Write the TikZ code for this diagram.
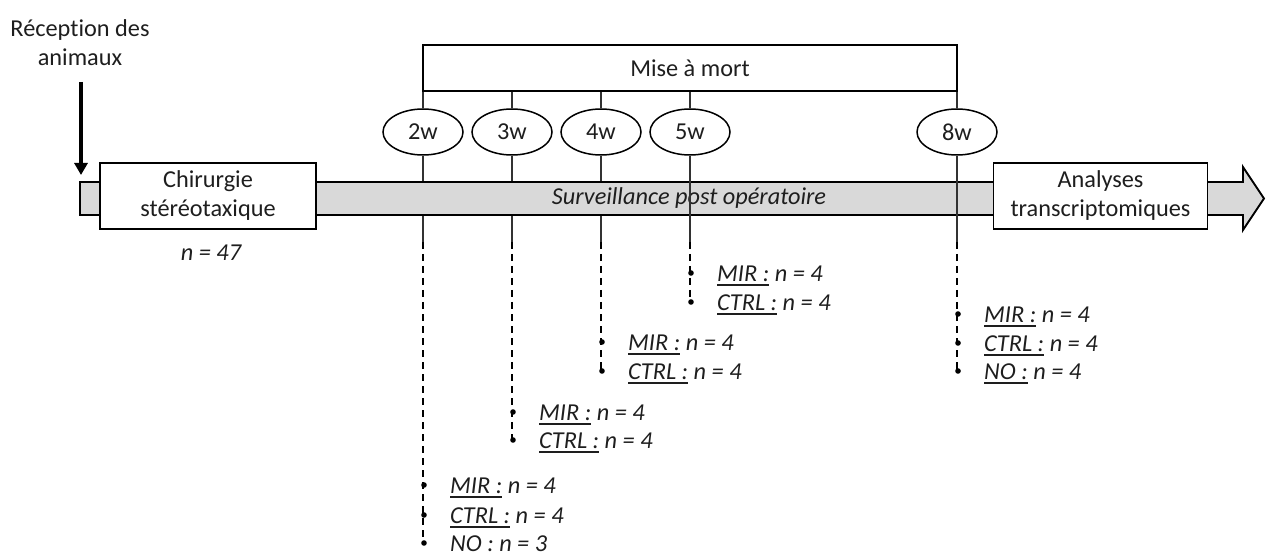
\documentclass[tikz,border=0pt]{standalone}
\usepackage{fontspec}
\setmainfont{Carlito}[Ligatures=NoCommon]
\usetikzlibrary{arrows.meta,shapes.geometric}
\definecolor{barfill}{RGB}{217,217,217}
\definecolor{txt}{RGB}{30,30,30}
\definecolor{linegray}{RGB}{50,50,50}
\newcommand\myul[1]{\setbox0\hbox{#1}\rlap{\rule[-4.5pt]{\wd0}{1.6pt}}\box0\relax}
\tikzset{
  lbl/.style={font=\fontsize{24.3}{29}\selectfont, text=txt, inner sep=0pt},
  boxn/.style={draw=black, line width=1.9pt, fill=white, lbl, align=center},
  wk/.style={ellipse, draw=black, line width=1.5pt, minimum width=80pt, minimum height=46pt, inner sep=0pt, lbl, fill=white},
  tick/.style={draw=linegray, line width=1.3pt},
  dsh/.style={draw=black, line width=2.2pt, dash pattern=on 7pt off 5pt},
  grp/.style={lbl, anchor=base west, font=\fontsize{24.3}{29}\selectfont\itshape},
  bul/.style={fill=black},
}
\begin{document}
\begin{tikzpicture}[x=1pt,y=-1pt]
\path[use as bounding box] (0,0) rectangle (1266,553);

% top boxes and ellipses
\node[boxn, minimum width=534pt, minimum height=46pt] (mam) at (690,68) {Mise à mort};
\node[wk] (w2) at (423,132) {2w};
\node[wk] (w3) at (512,132) {3w};
\node[wk] (w4) at (601,132) {4w};
\node[wk] (w5) at (690,132) {5w};
\node[wk] (w8) at (957,132) {8w};

% coordinates for solid / dashed ends
\coordinate (c2) at (423,242); \coordinate (e2) at (423,543);
\coordinate (c3) at (512,242); \coordinate (e3) at (512,440);
\coordinate (c4) at (601,242); \coordinate (e4) at (601,371);
\coordinate (c5) at (690,242); \coordinate (e5) at (690,302);
\coordinate (c8) at (957,242); \coordinate (e8) at (957,371);

\foreach \w in {2,3,4,5,8}{
  \draw[tick] (mam.south -| w\w) -- (w\w.north);
}
\foreach \w in {2,3,4}{
  \draw[tick] (w\w.south) -- (c\w);
}

% timeline bar
\draw[line width=1.9pt, fill=barfill, line join=miter]
  (80,182) -- (1243,182) -- (1243,167) -- (1264,198.5) -- (1243,230) -- (1243,215) -- (80,215) -- cycle;
\node[lbl, font=\fontsize{24.3}{29}\selectfont\itshape] (surv) at (689,198) {Surveillance post opératoire};

\foreach \w in {5,8}{
  \draw[tick] (w\w.south) -- (c\w);
}
\foreach \w in {2,3,4,5,8}{
  \draw[dsh] (c\w) -- (e\w);
}

% boxes on the bar
\node[boxn, minimum width=216pt, minimum height=66pt] (chir) at (208,196) {Chirurgie\\stéréotaxique};
\node[boxn, minimum width=214pt, minimum height=66pt] (ana) at (1100.5,196) {Analyses\\transcriptomiques};
\node[lbl, font=\fontsize{24.3}{29}\selectfont\itshape] (n47) at (211,253) {n = 47};

% reception arrow
\node[lbl, align=center] (rec) at (80,43) {Réception des\\animaux};
\coordinate (rectip) at (81,175);
\draw[line width=3.2pt, -{Triangle[width=13pt,length=12pt]}] (81,82) -- (rectip);

% group labels
\foreach \x/\y/\lab/\nv/\nm in {423/485/MIR/4/a, 423/515/CTRL/4/b, 423/543/NO/3/l, 512/412/MIR/4/c, 512/440/CTRL/4/d, 601/342/MIR/4/e, 601/371/CTRL/4/f, 690/273/MIR/4/g, 690/302/CTRL/4/h, 957/314/MIR/4/i, 957/343/CTRL/4/j, 957/371/NO/4/k}{
  \fill[bul] (\x+1,\y) circle (2.8pt);
  \node[grp] (g\nm) at (\x+27,\y+8.5) {\myul{\lab\ :} n = \nv};
}
\end{tikzpicture}
\end{document}
